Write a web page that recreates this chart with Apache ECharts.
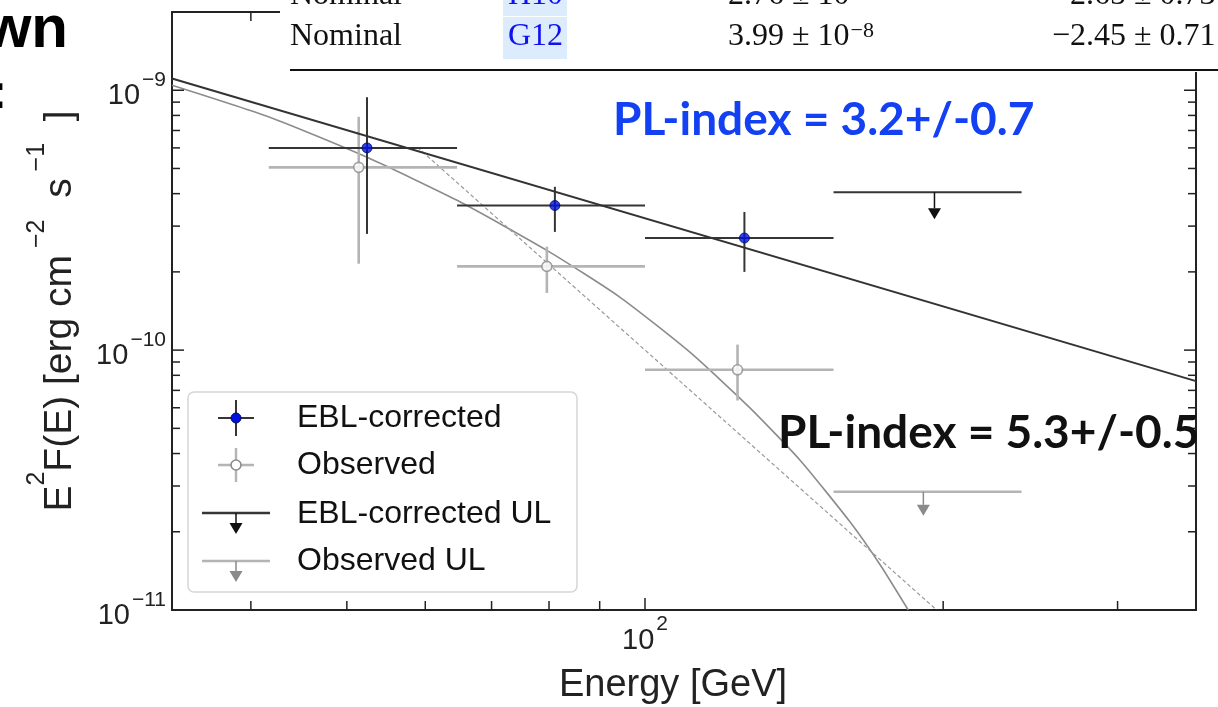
<!DOCTYPE html>
<html>
<head>
<meta charset="utf-8">
<script src="https://cdn.jsdelivr.net/npm/echarts@6/dist/echarts.min.js"></script>
<style>
  html, body { margin: 0; padding: 0; background: #fff; }
  #chart { width: 1218px; height: 707px; }
</style>
</head>
<body>
<div id="chart"></div>
<script>
// ---- Energy bins (GeV) ----
const binLo = [41.7, 64.6, 100, 155];
const binHi = [64.6, 100, 155, 240];

// ---- EBL-corrected flux points, E^2 F(E) [erg cm^-2 s^-1] ----
const eblEnergy = [52.4, 81.1, 126];
const eblFlux   = [6.0e-10, 3.6e-10, 2.7e-10];
const eblFluxLo = [2.8e-10, 2.85e-10, 2.0e-10];
const eblFluxHi = [9.4e-10, 4.25e-10, 3.4e-10];

// ---- Observed flux points ----
const obsEnergy = [51.4, 79.6, 124];
const obsFlux   = [5.05e-10, 2.1e-10, 8.4e-11];
const obsFluxLo = [2.15e-10, 1.66e-10, 6.4e-11];
const obsFluxHi = [7.9e-10, 2.5e-10, 1.05e-10];

// ---- Upper limits (last bin) ----
const ulBinIndex  = [3];
const eblUlEnergy = [196];
const eblUlFlux   = [4.05e-10];
const obsUlEnergy = [191];
const obsUlFlux   = [2.85e-11];

// ---- Spectral models ----
const eblFitEnergy   = [33.3, 360];
const eblFitFlux     = [1.11e-9, 7.6e-11];
const obsCurveEnergy = [33.3, 41.8, 52.4, 64.6, 79.6, 94.3, 111.0, 127.7, 143.4, 161.1, 172.8, 184.4];
const obsCurveFlux   = [1.045e-9, 7.87e-10, 5.52e-10, 3.77e-10, 2.42e-10, 1.60e-10, 9.82e-11, 5.98e-11,
                        3.77e-11, 2.18e-11, 1.49e-11, 1.0e-11];
const obsPlEnergy    = [58.9, 197];
const obsPlFlux      = [6.04e-10, 1.0e-11];

// ---- Axes ----
const xRange = [33.3, 360];
const yRange = [1e-11, 2e-9];
const xTickValues = [40, 50, 60, 70, 80, 90, 100, 200, 300];
const yTickValues = [2e-11, 3e-11, 4e-11, 5e-11, 6e-11, 7e-11, 8e-11, 9e-11, 1e-10,
                     2e-10, 3e-10, 4e-10, 5e-10, 6e-10, 7e-10, 8e-10, 9e-10, 1e-9];

const SANS = '"Liberation Sans", Arial, Helvetica, sans-serif';
const SERIF = '"Liberation Serif", "Times New Roman", serif';
const BOLD = 'Lato, "Open Sans", sans-serif';

const DARK = '#353535';
const LIGHT = '#b4b4b4';

function isDecade(v) {
  const e = Math.round(Math.log10(v));
  return Math.abs(v / Math.pow(10, e) - 1) < 1e-6;
}
function powerLabel(v) {
  if (!isDecade(v)) return '';
  const e = Math.round(Math.log10(v));
  const sup = e < 0 ? '\u2212' + (-e) : String(e);
  return '{b|10}{s|' + sup + '}';
}
const labelRich = {
  b: { fontFamily: SANS, fontSize: 29, color: '#222', padding: [12, 0, 0, 0], verticalAlign: 'bottom' },
  s: { fontFamily: SANS, fontSize: 21, color: '#222', padding: [0, 0, 0, 2], verticalAlign: 'top' }
};

// horizontal bin bar + vertical error bar
function errorBars(xs, ys, lo, hi, color, width) {
  return {
    type: 'custom',
    coordinateSystem: 'cartesian2d',
    silent: true,
    z: 3,
    data: xs.map((x, i) => [x, ys[i], binLo[i], binHi[i], lo[i], hi[i]]),
    encode: { x: 0, y: 1 },
    renderItem(params, api) {
      const x = api.value(0), y = api.value(1);
      const pL = api.coord([api.value(2), y]);
      const pR = api.coord([api.value(3), y]);
      const pB = api.coord([x, api.value(4)]);
      const pT = api.coord([x, api.value(5)]);
      const st = { stroke: color, lineWidth: width };
      return {
        type: 'group',
        children: [
          { type: 'line', shape: { x1: pL[0], y1: pL[1], x2: pR[0], y2: pR[1] }, style: st },
          { type: 'line', shape: { x1: pB[0], y1: pB[1], x2: pT[0], y2: pT[1] }, style: st }
        ]
      };
    }
  };
}

// upper limit: bin bar with downward arrow
function upperLimits(xs, ys, color, arrowColor, width, len) {
  return {
    type: 'custom',
    coordinateSystem: 'cartesian2d',
    silent: true,
    z: 3,
    data: xs.map((x, i) => [x, ys[i], binLo[ulBinIndex[i]], binHi[ulBinIndex[i]]]),
    encode: { x: 0, y: 1 },
    renderItem(params, api) {
      const x = api.value(0), y = api.value(1);
      const pL = api.coord([api.value(2), y]);
      const pR = api.coord([api.value(3), y]);
      const p = api.coord([x, y]);
      const ah = 11, aw = 6.5;
      return {
        type: 'group',
        children: [
          { type: 'line', shape: { x1: pL[0], y1: pL[1], x2: pR[0], y2: pR[1] }, style: { stroke: color, lineWidth: width } },
          { type: 'line', shape: { x1: p[0], y1: p[1], x2: p[0], y2: p[1] + len - ah }, style: { stroke: arrowColor, lineWidth: 1.5 } },
          { type: 'polygon', shape: { points: [[p[0] - aw, p[1] + len - ah], [p[0] + aw, p[1] + len - ah], [p[0], p[1] + len]] }, style: { fill: arrowColor } }
        ]
      };
    }
  };
}

// inward tick marks on all four sides of the frame
const tickSeriesX = {
  type: 'custom', coordinateSystem: 'cartesian2d', silent: true, z: 5,
  data: xTickValues.map(v => [v, yRange[0]]),
  encode: { x: 0, y: 1 },
  renderItem(params, api) {
    const v = api.value(0);
    const b = api.coord([v, yRange[0]]);
    const t = api.coord([v, yRange[1]]);
    const L = isDecade(v) ? 12 : 9;
    const st = { stroke: '#222', lineWidth: 1.5 };
    return { type: 'group', children: [
      { type: 'line', shape: { x1: b[0], y1: b[1], x2: b[0], y2: b[1] - L }, style: st },
      { type: 'line', shape: { x1: t[0], y1: t[1], x2: t[0], y2: t[1] + L }, style: st }
    ] };
  }
};
const tickSeriesY = {
  type: 'custom', coordinateSystem: 'cartesian2d', silent: true, z: 5,
  data: yTickValues.map(v => [xRange[0], v]),
  encode: { x: 0, y: 1 },
  renderItem(params, api) {
    const v = api.value(1);
    const l = api.coord([xRange[0], v]);
    const r = api.coord([xRange[1], v]);
    const L = isDecade(v) ? 12 : 8;
    const st = { stroke: '#222', lineWidth: 1.5 };
    return { type: 'group', children: [
      { type: 'line', shape: { x1: l[0], y1: l[1], x2: l[0] + L, y2: l[1] }, style: st },
      { type: 'line', shape: { x1: r[0], y1: r[1], x2: r[0] - L, y2: r[1] }, style: st }
    ] };
  }
};

const frameLine = { show: true, onZero: false, lineStyle: { color: '#222', width: 2 } };

const option = {
  backgroundColor: '#fff',
  animation: false,
  grid: { left: 172, top: 12, width: 1024, height: 598, containLabel: false, outerBoundsMode: 'none' },
  xAxis: [
    {
      type: 'log', logBase: 10, min: xRange[0], max: xRange[1], position: 'bottom',
      axisLine: frameLine, axisTick: { show: false }, splitLine: { show: false },
      axisLabel: { formatter: powerLabel, rich: labelRich, margin: 4, showMinLabel: false, showMaxLabel: false },
      name: 'Energy [GeV]', nameLocation: 'middle', nameGap: 57,
      nameTextStyle: { fontFamily: SANS, fontSize: 38, color: '#222', padding: [0, 22, 0, 0] }
    },
    {
      type: 'log', logBase: 10, min: xRange[0], max: xRange[1], position: 'top',
      axisLine: frameLine, axisTick: { show: false }, splitLine: { show: false }, axisLabel: { show: false }
    }
  ],
  yAxis: [
    {
      type: 'log', logBase: 10, min: yRange[0], max: yRange[1], position: 'left',
      axisLine: frameLine, axisTick: { show: false }, splitLine: { show: false },
      axisLabel: { formatter: powerLabel, rich: labelRich, margin: 6, showMinLabel: true, showMaxLabel: false },
      name: '{b|E}{s|2}{b|F(E) [erg cm}{s| \u22122}{b|  s}{s| \u22121}{b|  ]}',
      nameLocation: 'middle', nameRotate: 90, nameGap: 92,
      nameTextStyle: {
        rich: {
          b: { fontFamily: SANS, fontSize: 39, color: '#222', padding: [16, 0, 0, 0], verticalAlign: 'bottom' },
          s: { fontFamily: SANS, fontSize: 25, color: '#222', verticalAlign: 'top' }
        }
      }
    },
    {
      type: 'log', logBase: 10, min: yRange[0], max: yRange[1], position: 'right',
      axisLine: frameLine, axisTick: { show: false }, splitLine: { show: false }, axisLabel: { show: false }
    }
  ],
  series: [
    tickSeriesX,
    tickSeriesY,
    {
      name: 'Observed fit', type: 'line', smooth: 0.2, showSymbol: false, silent: true, z: 2,
      data: obsCurveEnergy.map((e, i) => [e, obsCurveFlux[i]]),
      lineStyle: { color: '#8c8c8c', width: 1.6 }
    },
    {
      name: 'Observed PL', type: 'line', showSymbol: false, silent: true, z: 2,
      data: obsPlEnergy.map((e, i) => [e, obsPlFlux[i]]),
      lineStyle: { color: '#9a9a9a', width: 1.2, type: [4, 2.5] }
    },
    errorBars(obsEnergy, obsFlux, obsFluxLo, obsFluxHi, LIGHT, 2.6),
    upperLimits(obsUlEnergy, obsUlFlux, LIGHT, '#8a8a8a', 2.6, 24),
    errorBars(eblEnergy, eblFlux, eblFluxLo, eblFluxHi, DARK, 2),
    upperLimits(eblUlEnergy, eblUlFlux, DARK, '#111', 2, 27),
    {
      name: 'EBL-corrected fit', type: 'line', showSymbol: false, silent: true, z: 4,
      data: eblFitEnergy.map((e, i) => [e, eblFitFlux[i]]),
      lineStyle: { color: '#333', width: 2 }
    },
    {
      name: 'Observed', type: 'scatter', symbol: 'circle', symbolSize: 10, z: 6,
      data: obsEnergy.map((e, i) => [e, obsFlux[i]]),
      itemStyle: { color: '#fff', borderColor: '#8c8c8c', borderWidth: 1.6 }
    },
    {
      name: 'EBL-corrected', type: 'scatter', symbol: 'circle', symbolSize: 10, z: 6,
      data: eblEnergy.map((e, i) => [e, eblFlux[i]]),
      itemStyle: { color: '#0010e0', borderColor: '#00105a', borderWidth: 1 }
    }
  ],
  graphic: [
    // table strip overlapping the top of the frame
    { type: 'rect', z: 200, shape: { x: 280, y: 0, width: 938, height: 72 }, style: { fill: '#fff' } },
    { type: 'rect', z: 201, shape: { x: 503, y: -10, width: 64, height: 26 }, style: { fill: '#dcecfc' } },
    { type: 'rect', z: 201, shape: { x: 503, y: 17, width: 64, height: 42 }, style: { fill: '#dcecfc' } },
    { type: 'text', z: 202, style: { x: 290, y: -4, text: 'Nominal', font: '32px ' + SERIF, fill: '#111', verticalAlign: 'middle' } },
    { type: 'text', z: 202, style: { x: 508, y: -4, text: 'H10', font: '32px ' + SERIF, fill: '#1010f0', verticalAlign: 'middle' } },
    { type: 'text', z: 202, style: { x: 728, y: -4, text: '2.76 \u00b1 10{s|\u22128}', font: '32px ' + SERIF, fill: '#111', verticalAlign: 'middle',
      rich: { s: { font: '22px ' + SERIF, fill: '#111', verticalAlign: 'top', padding: [0, 0, 12, 1] } } } },
    { type: 'text', z: 202, style: { x: 1052, y: -4, text: '\u22122.65 \u00b1 0.73', font: '32px ' + SERIF, fill: '#111', verticalAlign: 'middle' } },
    { type: 'text', z: 202, style: { x: 290, y: 37, text: 'Nominal', font: '32px ' + SERIF, fill: '#111', verticalAlign: 'middle' } },
    { type: 'text', z: 202, style: { x: 508, y: 37, text: 'G12', font: '32px ' + SERIF, fill: '#1010f0', verticalAlign: 'middle' } },
    { type: 'text', z: 202, style: { x: 728, y: 37, text: '3.99 \u00b1 10{s|\u22128}', font: '32px ' + SERIF, fill: '#111', verticalAlign: 'middle',
      rich: { s: { font: '22px ' + SERIF, fill: '#111', verticalAlign: 'top', padding: [0, 0, 12, 1] } } } },
    { type: 'text', z: 202, style: { x: 1052, y: 37, text: '\u22122.45 \u00b1 0.71', font: '32px ' + SERIF, fill: '#111', verticalAlign: 'middle' } },
    { type: 'rect', z: 202, shape: { x: 290, y: 69, width: 928, height: 2 }, style: { fill: '#111' } },

    // slide title fragments at the left edge
    { type: 'text', z: 202, style: { x: 68, y: 30, text: 'wn', font: 'bold 60px ' + SANS, fill: '#000', align: 'right', verticalAlign: 'middle' } },
    { type: 'text', z: 202, style: { x: 7, y: 95, text: ':', font: 'bold 48px ' + SANS, fill: '#000', align: 'right', verticalAlign: 'middle' } },

    // fit annotations
    { type: 'text', z: 150, style: { x: 613, y: 120, text: 'PL-index = 3.2+/-0.7', font: 'bold 46px ' + BOLD, fill: '#1240f2', verticalAlign: 'middle' } },
    { type: 'text', z: 150, style: { x: 778, y: 433, text: 'PL-index = 5.3+/-0.5', font: 'bold 46px ' + BOLD, fill: '#111', verticalAlign: 'middle' } },

    // legend
    { type: 'rect', z: 100, shape: { x: 188, y: 392, width: 389, height: 200, r: 6 }, style: { fill: '#fff', stroke: '#d6d6d6', lineWidth: 1.5 } },
    { type: 'line', z: 101, shape: { x1: 218, y1: 418, x2: 254, y2: 418 }, style: { stroke: DARK, lineWidth: 2 } },
    { type: 'line', z: 101, shape: { x1: 236, y1: 400, x2: 236, y2: 436 }, style: { stroke: DARK, lineWidth: 2 } },
    { type: 'circle', z: 102, shape: { cx: 236, cy: 418, r: 5 }, style: { fill: '#0010e0', stroke: '#00105a', lineWidth: 1 } },
    { type: 'line', z: 101, shape: { x1: 218, y1: 465, x2: 254, y2: 465 }, style: { stroke: LIGHT, lineWidth: 2.4 } },
    { type: 'line', z: 101, shape: { x1: 236, y1: 448, x2: 236, y2: 482 }, style: { stroke: LIGHT, lineWidth: 2.4 } },
    { type: 'circle', z: 102, shape: { cx: 236, cy: 465, r: 5 }, style: { fill: '#fff', stroke: '#8c8c8c', lineWidth: 1.6 } },
    { type: 'line', z: 101, shape: { x1: 202, y1: 513, x2: 270, y2: 513 }, style: { stroke: DARK, lineWidth: 2.4 } },
    { type: 'line', z: 101, shape: { x1: 236, y1: 513, x2: 236, y2: 524 }, style: { stroke: '#111', lineWidth: 1.5 } },
    { type: 'polygon', z: 101, shape: { points: [[229.5, 523], [242.5, 523], [236, 534]] }, style: { fill: '#111' } },
    { type: 'line', z: 101, shape: { x1: 202, y1: 561, x2: 270, y2: 561 }, style: { stroke: LIGHT, lineWidth: 2.4 } },
    { type: 'line', z: 101, shape: { x1: 236, y1: 561, x2: 236, y2: 572 }, style: { stroke: '#8a8a8a', lineWidth: 1.5 } },
    { type: 'polygon', z: 101, shape: { points: [[229.5, 571], [242.5, 571], [236, 582]] }, style: { fill: '#8a8a8a' } },
    { type: 'text', z: 102, style: { x: 297, y: 418, text: 'EBL-corrected', font: '32px ' + SANS, fill: '#111', verticalAlign: 'middle' } },
    { type: 'text', z: 102, style: { x: 297, y: 465, text: 'Observed', font: '32px ' + SANS, fill: '#111', verticalAlign: 'middle' } },
    { type: 'text', z: 102, style: { x: 297, y: 514, text: 'EBL-corrected UL', font: '32px ' + SANS, fill: '#111', verticalAlign: 'middle' } },
    { type: 'text', z: 102, style: { x: 297, y: 561, text: 'Observed UL', font: '32px ' + SANS, fill: '#111', verticalAlign: 'middle' } }
  ]
};

const chart = echarts.init(document.getElementById('chart'), null, { renderer: 'canvas' });
chart.setOption(option);
</script>
</body>
</html>
